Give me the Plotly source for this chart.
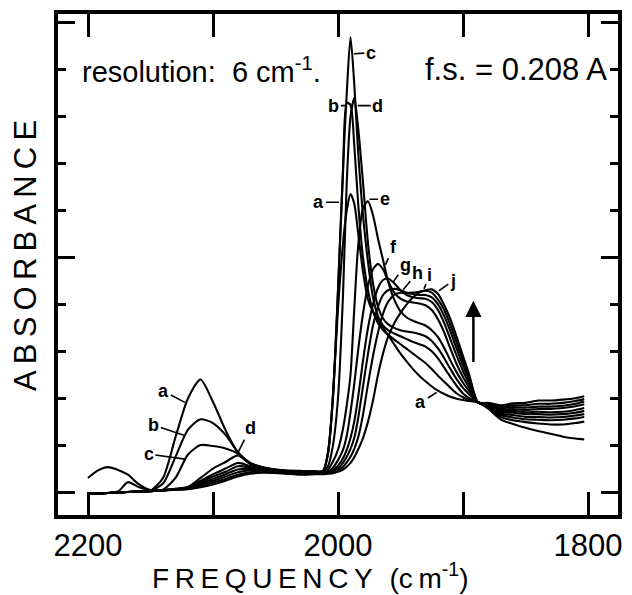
import plotly.graph_objects as go

# Wavenumber grid (cm-1)
WN = [2200, 2192, 2184, 2176, 2168, 2160, 2150, 2140, 2130, 2120, 2110, 2100, 2090, 2080, 2070, 2060, 2045, 2030, 2018,
      2012, 2008, 2004, 2000, 1996, 1993, 1990, 1987, 1984, 1980,
      1976, 1972, 1968, 1964, 1960, 1955, 1950, 1945, 1940, 1935,
      1930, 1925, 1920, 1915, 1910, 1905, 1900, 1895, 1888, 1880,
      1870, 1860, 1850, 1840, 1830, 1820, 1810, 1803]

# Absorbance (in tick units) for spectra a..j
A = [-0.04, -0.03, -0.02, -0.01, 0.00, 0.01, 0.03, 0.30, 1.17, 2.00, 2.40, 1.92, 1.32, 0.84, 0.62, 0.53, 0.47, 0.45, 0.44,
     0.45, 0.80, 2.10, 3.90, 5.30, 6.00, 6.35, 6.15, 5.55, 4.70,
     4.10, 3.85, 3.68, 3.50, 3.35, 3.15, 2.95, 2.78, 2.62, 2.48,
     2.36, 2.25, 2.16, 2.09, 2.03, 1.99, 1.96, 1.94, 1.91, 1.78,
     1.55, 1.45, 1.37, 1.30, 1.24, 1.18, 1.14, 1.12]
B = [-0.04, -0.03, -0.02, -0.01, 0.00, 0.01, 0.03, 0.18, 0.75, 1.33, 1.55, 1.47, 1.22, 0.85, 0.61, 0.52, 0.46, 0.44, 0.44,
     0.44, 0.85, 2.05, 4.30, 6.80, 8.30, 8.25, 7.40, 6.20, 5.00,
     4.30, 3.85, 3.60, 3.45, 3.35, 3.25, 3.15, 3.05, 2.95, 2.85,
     2.75, 2.62, 2.48, 2.35, 2.22, 2.10, 2.02, 1.96, 1.91, 1.80,
     1.60, 1.53, 1.49, 1.46, 1.44, 1.44, 1.47, 1.50]
C = [-0.04, -0.03, -0.02, -0.01, 0.00, 0.01, 0.02, 0.05, 0.30, 0.80, 1.00, 0.98, 0.93, 0.82, 0.60, 0.51, 0.46, 0.44, 0.43,
     0.44, 0.85, 2.00, 4.30, 6.90, 8.50, 9.70, 8.70, 7.30, 5.90,
     4.90, 4.15, 3.75, 3.55, 3.45, 3.38, 3.32, 3.26, 3.20, 3.15,
     3.10, 3.00, 2.85, 2.65, 2.45, 2.26, 2.10, 2.00, 1.91, 1.82,
     1.64, 1.59, 1.55, 1.54, 1.53, 1.54, 1.57, 1.60]
D = [-0.04, -0.03, -0.02, -0.01, 0.00, 0.01, 0.02, 0.04, 0.07, 0.11, 0.30, 0.50, 0.64, 0.78, 0.59, 0.50, 0.45, 0.43, 0.43,
     0.43, 0.55, 1.00, 2.00, 4.20, 6.60, 8.00, 8.40, 7.80, 6.60,
     5.30, 4.45, 3.95, 3.70, 3.58, 3.50, 3.45, 3.42, 3.40, 3.37,
     3.32, 3.22, 3.06, 2.85, 2.62, 2.40, 2.22, 2.08, 1.91, 1.83,
     1.67, 1.64, 1.60, 1.60, 1.59, 1.60, 1.63, 1.66]
E = [-0.04, -0.03, -0.02, -0.01, 0.00, 0.01, 0.02, 0.04, 0.07, 0.10, 0.24, 0.38, 0.50, 0.62, 0.55, 0.48, 0.44, 0.42, 0.42,
     0.42, 0.48, 0.65, 0.90, 1.35, 1.85, 2.50, 3.90, 5.20, 6.05,
     6.20, 5.90, 5.40, 4.95, 4.50, 4.10, 3.85, 3.72, 3.65, 3.60,
     3.55, 3.45, 3.30, 3.07, 2.80, 2.55, 2.33, 2.15, 1.91, 1.85,
     1.70, 1.69, 1.66, 1.66, 1.65, 1.66, 1.69, 1.73]
F = [-0.04, -0.03, -0.02, -0.01, 0.00, 0.01, 0.02, 0.04, 0.06, 0.09, 0.21, 0.33, 0.43, 0.55, 0.52, 0.46, 0.43, 0.41, 0.41,
     0.41, 0.44, 0.52, 0.68, 0.90, 1.20, 1.70, 2.30, 3.00, 3.80,
     4.40, 4.75, 4.86, 4.75, 4.50, 4.25, 4.12, 4.06, 4.04, 4.02,
     3.98, 3.88, 3.68, 3.40, 3.05, 2.72, 2.45, 2.22, 1.91, 1.86,
     1.73, 1.73, 1.70, 1.71, 1.70, 1.71, 1.75, 1.79]
G = [-0.04, -0.03, -0.02, -0.01, 0.00, 0.01, 0.02, 0.03, 0.06, 0.08, 0.18, 0.28, 0.38, 0.48, 0.49, 0.45, 0.42, 0.40, 0.40,
     0.40, 0.42, 0.47, 0.56, 0.72, 0.90, 1.15, 1.50, 2.00, 2.80,
     3.50, 4.00, 4.35, 4.52, 4.55, 4.45, 4.30, 4.20, 4.15, 4.13,
     4.12, 4.05, 3.88, 3.60, 3.25, 2.90, 2.58, 2.30, 1.91, 1.87,
     1.76, 1.77, 1.75, 1.77, 1.77, 1.79, 1.83, 1.87]
H = [-0.04, -0.03, -0.02, -0.01, 0.00, 0.01, 0.02, 0.03, 0.05, 0.07, 0.15, 0.24, 0.33, 0.42, 0.46, 0.44, 0.41, 0.39, 0.40,
     0.40, 0.41, 0.44, 0.50, 0.62, 0.75, 0.92, 1.15, 1.55, 2.25,
     2.95, 3.55, 3.95, 4.20, 4.30, 4.33, 4.30, 4.25, 4.22, 4.20,
     4.20, 4.15, 4.00, 3.75, 3.42, 3.05, 2.70, 2.38, 1.91, 1.88,
     1.79, 1.81, 1.80, 1.82, 1.82, 1.84, 1.88, 1.93]
I = [-0.04, -0.03, -0.02, 0.01, 0.21, 0.11, 0.03, 0.04, 0.05, 0.07, 0.12, 0.20, 0.28, 0.37, 0.42, 0.43, 0.40, 0.38, 0.39,
     0.39, 0.40, 0.42, 0.46, 0.54, 0.63, 0.75, 0.92, 1.15, 1.65,
     2.30, 2.90, 3.40, 3.80, 4.05, 4.20, 4.25, 4.24, 4.25, 4.27,
     4.29, 4.25, 4.10, 3.88, 3.55, 3.18, 2.80, 2.45, 1.91, 1.89,
     1.82, 1.85, 1.85, 1.88, 1.88, 1.90, 1.94, 1.98]
J = [0.30, 0.46, 0.53, 0.47, 0.37, 0.18, 0.04, 0.04, 0.05, 0.06, 0.10, 0.16, 0.24, 0.33, 0.39, 0.41, 0.40, 0.37, 0.38,
     0.38, 0.39, 0.40, 0.43, 0.48, 0.54, 0.62, 0.74, 0.90, 1.15,
     1.50, 1.95, 2.50, 2.95, 3.30, 3.60, 3.82, 4.00, 4.15, 4.25,
     4.30, 4.32, 4.22, 3.98, 3.68, 3.30, 2.90, 2.50, 1.91, 1.90,
     1.85, 1.89, 1.90, 1.95, 1.95, 1.97, 2.00, 2.04]

SERIES = [("a", A), ("b", B), ("c", C), ("d", D), ("e", E), ("f", F), ("g", G), ("h", H), ("i", I), ("j", J)]

X_TICKS = [2200, 2000, 1800]
X_TICKTEXT = ["2200", "2000", "1800"]

FONT = "Liberation Sans"

fig = go.Figure()
for name, vals in SERIES:
    fig.add_trace(go.Scatter(x=WN, y=vals, mode="lines", name=name,
                             line=dict(color="black", width=2.1, shape="spline", smoothing=0.7),
                             showlegend=False, hoverinfo="skip"))

fig.update_layout(
    width=632, height=595,
    margin=dict(l=58, r=10, t=12, b=80),
    paper_bgcolor="white", plot_bgcolor="white",
    font=dict(family=FONT, color="black"),
)
fig.update_xaxes(range=[2224, 1776], showgrid=False, zeroline=False,
                 showline=True, linewidth=3.5, linecolor="black", mirror="ticks",
                 ticks="inside", ticklen=23, tickwidth=2.5, tickcolor="black",
                 tickvals=X_TICKS, ticktext=X_TICKTEXT,
                 minor=dict(tick0=2200, dtick=100, ticks="inside", ticklen=23, tickwidth=2.5, tickcolor="black"),
                 tickfont=dict(size=31, family=FONT, color="black"))
fig.update_yaxes(range=[-0.49, 10.19], showgrid=False, zeroline=False,
                 showline=True, linewidth=3.5, linecolor="black", mirror="ticks",
                 ticks="inside", ticklen=17, tickwidth=2.5, tickcolor="black",
                 tickvals=[0, 5, 10], showticklabels=False,
                 minor=dict(dtick=1, ticks="inside", ticklen=8, tickwidth=2.5, tickcolor="black"))

ts = "\u2009"
ann = []
# axis titles
ann.append(dict(text=ts.join("ABSORBANCE"), xref="paper", yref="paper", x=-0.057, y=0.517,
                textangle=-90, showarrow=False, font=dict(size=31, family=FONT, color="black"),
                xanchor="center", yanchor="middle"))
ann.append(dict(text=ts.join("FREQUENCY") + ts * 3 + "(c" + ts + "m<sup>-1</sup>)", xref="paper", yref="paper",
                x=0.45, y=-0.121, showarrow=False, font=dict(size=28, family=FONT, color="black"),
                xanchor="center", yanchor="middle"))
# header texts
ann.append(dict(text="resolution:  6 cm<sup>-1</sup>.", xref="paper", yref="paper", x=0.039, y=0.889,
                showarrow=False, font=dict(size=29, family=FONT, color="black"), xanchor="left", yanchor="middle"))
ann.append(dict(text="f.s. = 0.208 A", xref="paper", yref="paper", x=0.984, y=0.889,
                showarrow=False, font=dict(size=31, family=FONT, color="black"), xanchor="right", yanchor="middle"))


def px2wn(px):
    return 2200 - (px - 88) / 1.265


def py2v(py):
    return (492 - py) / 47.1


# curve labels: (text, text px, text py, leader end px, leader end py)
LABELS = [("c", 374, 51, 357, 52), ("b", 337, 104, 350, 104), ("d", 381, 104, 361, 104),
          ("a", 322, 201, 342, 201), ("e", 388, 198, 373, 198), ("f", 397, 246, 389, 264),
          ("g", 409, 264, 397, 281), ("h", 421, 272, 407, 289), ("i", 434, 274, 428, 288),
          ("j", 457, 280, 443, 290), ("a", 425, 402, 441, 392),
          ("a", 165, 391, 186, 402), ("b", 155, 425, 185, 435), ("c", 150, 454, 186, 459),
          ("d", 252, 428, 240, 452)]
for t, tx, ty, lx, ly in LABELS:
    ann.append(dict(text="<b>%s</b>" % t, x=px2wn(lx), y=py2v(ly), xref="x", yref="y",
                    ax=tx - lx, ay=ty - ly, showarrow=True, arrowhead=0, arrowwidth=1.6,
                    arrowcolor="black", standoff=0, startstandoff=0,
                    font=dict(size=18, family=FONT, color="black")))

# growth arrow
ann.append(dict(text="", x=px2wn(478), y=py2v(300), ax=px2wn(478), ay=py2v(363), xref="x", yref="y",
                axref="x", ayref="y", showarrow=True, arrowhead=2, arrowsize=1.3, arrowwidth=2.5,
                arrowcolor="black"))
fig.update_layout(annotations=ann)

fig.write_html("out.html")
